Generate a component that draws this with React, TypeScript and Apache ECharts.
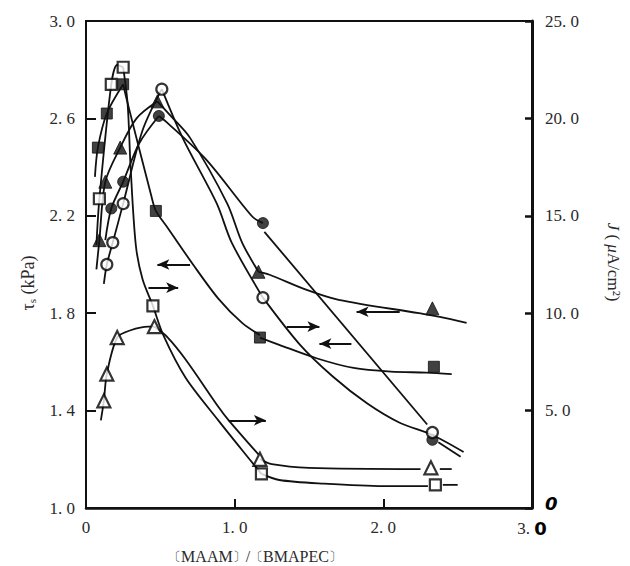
import React, { useEffect, useRef } from "react";
import * as echarts from "echarts";

// ---- axis ticks ----
const xTickValues = [0, 1, 2, 3];
const tauTicks = [1.0, 1.4, 1.8, 2.2, 2.6, 3.0];
const jTicks = [0, 5, 10, 15, 20, 25];

// ---- open squares ----
const sqOpenMarks = [[0.09, 2.27], [0.17, 2.74], [0.25, 2.81], [0.45, 1.83], [1.18, 1.14], [2.35, 1.095]];
const sqOpenRise = [[0.07, 2.08], [0.09, 2.27], [0.17, 2.74], [0.21, 2.82], [0.25, 2.81]];
const sqOpenFall = [[0.25, 2.81], [0.28, 2.66], [0.3, 2.4], [0.335, 2.08], [0.38, 1.94], [0.45, 1.83], [0.52, 1.71], [0.67, 1.535], [0.89, 1.36], [1.1, 1.2], [1.18, 1.14]];
const sqOpenTail = [[1.18, 1.14], [1.3, 1.115], [1.6, 1.1], [2.0, 1.09], [2.3, 1.09]];
const sqOpenDash = [[2.4, 1.095], [2.5, 1.095]];

// ---- filled squares ----
const sqFillMarks = [[0.08, 2.48], [0.14, 2.62], [0.25, 2.74], [0.47, 2.22], [1.17, 1.7], [2.34, 1.58]];
const sqFillRise = [[0.06, 2.36], [0.08, 2.48], [0.14, 2.62], [0.25, 2.74]];
const sqFillFall = [[0.25, 2.74], [0.275, 2.675], [0.44, 2.28], [0.47, 2.22], [0.55, 2.15], [0.72, 2.0], [0.89, 1.86], [1.05, 1.76], [1.17, 1.71]];
const sqFillTail = [[1.17, 1.7], [1.3, 1.67], [1.55, 1.615], [1.8, 1.575], [2.05, 1.56], [2.29, 1.556], [2.46, 1.55]];

// ---- filled triangles ----
const triFillMarks = [[0.09, 2.1], [0.13, 2.34], [0.23, 2.48], [0.48, 2.67], [1.16, 1.97], [2.33, 1.82]];
const triFillRise = [[0.07, 1.98], [0.09, 2.1], [0.13, 2.34], [0.23, 2.48], [0.34, 2.6], [0.48, 2.67]];
const triFillFall = [[0.48, 2.67], [0.57, 2.61], [0.7, 2.52], [0.95, 2.25], [1.05, 2.09], [1.16, 1.97]];
const triFillTail = [[1.16, 1.97], [1.235, 1.958], [1.48, 1.897], [1.7, 1.855], [2.24, 1.8], [2.38, 1.785], [2.56, 1.76]];

// ---- filled circles ----
const cirFillMarks = [[0.17, 2.23], [0.25, 2.34], [0.49, 2.61], [1.19, 2.17], [2.33, 1.28]];
const cirFillRise = [[0.13, 2.1], [0.17, 2.23], [0.25, 2.34], [0.36, 2.5], [0.49, 2.61]];
const cirFillFall = [[0.49, 2.61], [0.54, 2.586], [0.81, 2.43], [1.12, 2.196], [1.19, 2.17]];
const cirFillTail = [[1.2, 2.134], [2.295, 1.343]];
const cirFillEnd = [[2.37, 1.27], [2.52, 1.21]];

// ---- open circles ----
const cirOpenMarks = [[0.14, 2.0], [0.18, 2.09], [0.25, 2.25], [0.51, 2.72], [1.19, 1.864], [2.33, 1.31]];
const cirOpenRise = [[0.12, 1.92], [0.14, 2.0], [0.18, 2.09], [0.25, 2.25], [0.38, 2.55], [0.51, 2.72]];
const cirOpenFall = [[0.51, 2.72], [0.65, 2.52], [0.88, 2.25], [0.98, 2.09], [1.19, 1.864]];
const cirOpenTail = [[1.19, 1.864], [1.44, 1.67], [1.66, 1.54], [1.89, 1.43], [2.11, 1.35], [2.33, 1.3], [2.54, 1.23]];

// ---- open triangles ----
const triOpenMarks = [[0.12, 1.44], [0.14, 1.55], [0.21, 1.7], [0.46, 1.745], [1.17, 1.2], [2.32, 1.165]];
const triOpenRise = [[0.1, 1.36], [0.12, 1.44], [0.14, 1.55], [0.21, 1.7], [0.3, 1.73], [0.42, 1.745], [0.46, 1.745]];
const triOpenFall = [[0.46, 1.745], [0.55, 1.7], [0.67, 1.61], [0.89, 1.416], [0.96, 1.36], [1.16, 1.22]];
const triOpenTail = [[1.17, 1.2], [1.25, 1.18], [1.5, 1.165], [2.25, 1.16]];
const triOpenDash = [[2.38, 1.16], [2.46, 1.16]];

// ---- arrows: [xFrom, yFrom, xTo(head), yTo] ----
const arrowList = [
  [0.7, 2.0, 0.48, 2.0],
  [0.42, 1.905, 0.62, 1.905],
  [0.96, 1.36, 1.21, 1.36],
  [2.11, 1.806, 1.82, 1.806],
  [1.35, 1.745, 1.57, 1.745],
  [1.785, 1.675, 1.57, 1.675],
];

const INK = "#111";
const TXT = "#2a2a2a";
const SERIF = "'Liberation Serif', 'DejaVu Serif', serif";

const curve = (data: number[][]) => ({
  type: "line",
  data,
  smooth: 0.3,
  symbol: "none",
  silent: true,
  z: 2,
  lineStyle: { color: INK, width: 1.8 },
});

const marks = (data: number[][], symbol: string, size: number, filled: boolean) => ({
  type: "scatter",
  data,
  symbol,
  symbolSize: size,
  silent: true,
  z: 5,
  itemStyle: filled
    ? { color: INK, borderColor: INK, borderWidth: 1 }
    : { color: "#fff", borderColor: "#000", borderWidth: 2.2 },
});

const fmtNum = (v: number) => {
  const s = v.toFixed(1);
  return s.replace(".", ". ");
};

export default function App() {
  const ref = useRef<HTMLDivElement>(null);
  useEffect(() => {
    if (!ref.current) return;
    const chart = echarts.init(ref.current, undefined, { renderer: "svg" });
    const series: any[] = [
      curve(sqOpenRise), curve(sqOpenFall), curve(sqOpenTail), curve(sqOpenDash),
      curve(sqFillRise), curve(sqFillFall), curve(sqFillTail),
      curve(triFillRise), curve(triFillFall), curve(triFillTail),
      curve(cirFillRise), curve(cirFillFall), curve(cirFillTail), curve(cirFillEnd),
      curve(cirOpenRise), curve(cirOpenFall), curve(cirOpenTail),
      curve(triOpenRise), curve(triOpenFall), curve(triOpenTail), curve(triOpenDash),
      marks(sqOpenMarks, "rect", 11, false),
      marks(sqFillMarks, "rect", 11, true),
      marks(triFillMarks, "triangle", 13, true),
      marks(cirFillMarks, "circle", 11, true),
      marks(cirOpenMarks, "circle", 11, false),
      marks(triOpenMarks, "triangle", 13, false),
      {
        type: "line",
        data: [],
        silent: true,
        z: 3,
        markLine: {
          silent: true,
          animation: false,
          symbol: ["none", "arrow"],
          symbolSize: [8, 12],
          label: { show: false },
          lineStyle: { color: INK, width: 2, type: "solid" },
          data: arrowList.map((a) => [
            { coord: [a[0], a[1]] },
            { coord: [a[2], a[3]] },
          ]),
        },
      },
    ];
    chart.setOption({
      animation: false,
      backgroundColor: "#fff",
      grid: {
        left: 86,
        right: 98,
        top: 21,
        bottom: 58,
        show: true,
        borderColor: INK,
        borderWidth: 2,
        backgroundColor: "transparent",
      },
      xAxis: {
        type: "value",
        min: xTickValues[0],
        max: xTickValues[xTickValues.length - 1],
        interval: 1,
        axisLine: { show: true, lineStyle: { color: INK, width: 2.5 } },
        axisTick: { show: true, inside: true, length: 9, lineStyle: { color: INK, width: 2 } },
        splitLine: { show: false },
        axisLabel: {
          margin: 11,
          color: TXT,
          fontFamily: SERIF,
          fontSize: 17,
          formatter: (v: number) =>
            v === 0 ? "0" : v === 3 ? "3. {b|0}" : fmtNum(v),
          rich: {
            b: { fontWeight: "bold", fontFamily: "'DejaVu Sans', sans-serif", fontSize: 18, color: "#000" },
          },
        },
      },
      yAxis: [
        {
          type: "value",
          min: tauTicks[0],
          max: tauTicks[tauTicks.length - 1],
          interval: 0.4,
          position: "left",
          axisLine: { show: true, lineStyle: { color: INK, width: 2 } },
          axisTick: { show: true, inside: true, length: 10, lineStyle: { color: INK, width: 2 } },
          splitLine: { show: false },
          axisLabel: {
            margin: 11,
            color: TXT,
            fontFamily: SERIF,
            fontSize: 17,
            formatter: (v: number) => fmtNum(v),
          },
        },
        {
          type: "value",
          min: jTicks[0],
          max: jTicks[jTicks.length - 1],
          interval: 5,
          position: "right",
          axisLine: { show: true, lineStyle: { color: INK, width: 3 } },
          axisTick: { show: true, inside: true, length: 7, lineStyle: { color: INK, width: 2.5 } },
          splitLine: { show: false },
          axisLabel: {
            margin: 13,
            color: TXT,
            fontFamily: SERIF,
            fontSize: 17,
            formatter: (v: number) => (v === 0 ? "{b|0}" : fmtNum(v)),
            rich: {
              b: {
                fontWeight: "bold",
                fontStyle: "italic",
                fontFamily: "'DejaVu Sans', sans-serif",
                fontSize: 18,
                color: "#000",
                padding: [0, 0, 10, 0],
              },
            },
          },
        },
      ],
      series,
      graphic: [
        {
          type: "text",
          x: 28,
          y: 283,
          rotation: Math.PI / 2,
          silent: true,
          style: {
            text: "τ{s|s} (kPa)",
            fill: TXT,
            fontFamily: SERIF,
            fontSize: 18,
            align: "center",
            verticalAlign: "middle",
            rich: { s: { fontSize: 11, fontFamily: SERIF, fill: TXT, padding: [8, 0, 0, 0] } },
          },
        },
        {
          type: "text",
          x: 613,
          y: 262,
          rotation: -Math.PI / 2,
          silent: true,
          style: {
            text: "{i|J} ( {i|μ}A/cm²)",
            fill: TXT,
            fontFamily: SERIF,
            fontSize: 17,
            align: "center",
            verticalAlign: "middle",
            rich: { i: { fontStyle: "italic", fontFamily: SERIF, fontSize: 17, fill: TXT } },
          },
        },
        {
          type: "text",
          x: 255,
          y: 556,
          silent: true,
          style: {
            text: "{k|〔}MAAM{k|〕}/{k|〔}BMAPEC{k|〕}",
            fill: TXT,
            fontFamily: SERIF,
            fontSize: 16,
            align: "center",
            verticalAlign: "middle",
            rich: { k: { fontSize: 13, fill: TXT } },
          },
        },
      ],
    });
    return () => chart.dispose();
  }, []);
  return (
    <div
      ref={ref}
      style={{ position: "fixed", left: 0, top: 0, width: 630, height: 566, background: "#fff" }}
    />
  );
}
